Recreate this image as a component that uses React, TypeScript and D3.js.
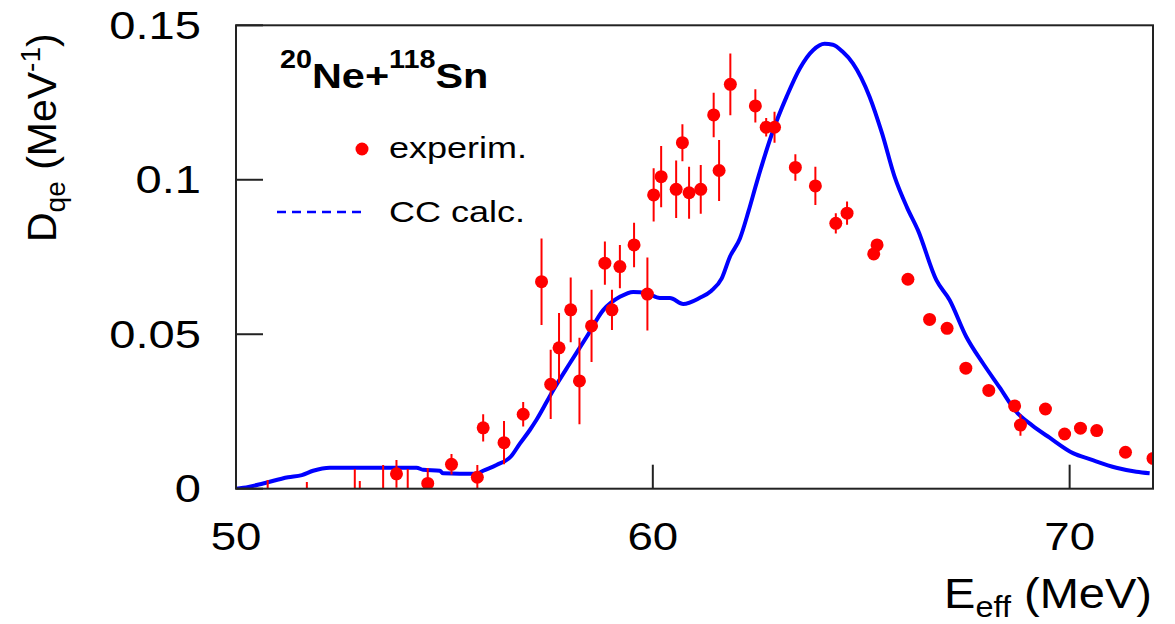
import React from 'react';
import * as d3 from 'd3';

// axis ticks
const xTicks = [50, 60, 70];
const yTicks = [0, 0.05, 0.1, 0.15];
const yTickLabels = ['0', '0.05', '0.1', '0.15'];

// experimental points (E_eff in MeV, D_qe, error half-width)
const expX = [50.76, 51.7, 52.85, 52.97, 53.53, 54.12,
  53.85, 54.6, 55.17, 55.79, 55.93, 56.43, 56.89, 57.33, 57.55, 57.75,
  58.03, 58.24, 58.53, 58.85, 59.02, 59.21, 59.55, 59.87, 60.02, 60.2,
  60.56, 60.71, 60.87, 61.15, 61.46, 61.59, 61.86, 62.46, 62.72, 62.92,
  63.42, 63.9, 64.39, 64.66, 65.3, 65.38, 66.12, 66.64, 67.06, 67.51,
  68.06, 68.68, 68.82, 69.42, 69.88, 70.26, 70.65, 71.34, 72.0];
const expY = [-0.005, -0.005, -0.005, -0.005, -0.005, -0.005,
  0.0048, 0.0017, 0.0079, 0.0037, 0.0197, 0.0149, 0.0241, 0.067, 0.0338, 0.0456,
  0.0579, 0.0349, 0.0527, 0.073, 0.0579, 0.0719, 0.0789, 0.063, 0.0951, 0.101,
  0.0969, 0.112, 0.0958, 0.0969, 0.121, 0.103, 0.1309, 0.1239, 0.117, 0.117,
  0.104, 0.098, 0.0859, 0.0892, 0.076, 0.0789, 0.0678, 0.0548, 0.0519, 0.039,
  0.0318, 0.0268, 0.0206, 0.0258, 0.0177, 0.0196, 0.0188, 0.0118, 0.0098];
const expErr = [0.0078, 0.0072, 0.0114, 0.0075, 0.0127, 0.0114,
  0.0045, 0.005, 0.0033, 0.004, 0.0044, 0.007, 0.004, 0.014, 0.0112, 0.0113,
  0.0105, 0.014, 0.0117, 0.007, 0.0065, 0.007, 0.0072, 0.0118, 0.0086, 0.0099,
  0.0093, 0.006, 0.0084, 0.0079, 0.0072, 0.0099, 0.01, 0.0054, 0.003, 0.005,
  0.0043, 0.0062, 0.0033, 0.0038, 0.002, 0.0015, 0.0012, 0.001, 0.001, 0.001,
  0.001, 0.001, 0.0035, 0.001, 0.0012, 0.0015, 0.001, 0.001, 0.001];

// coupled-channels calculation
const calcX = [50.0, 50.3, 50.65, 51.25, 51.58, 51.85, 52.25, 54.33, 54.49, 54.89,
  54.97, 55.77, 55.93, 56.25, 56.6, 56.81, 57.05, 57.21, 57.61, 58.01, 58.41,
  58.81, 59.21, 59.53, 59.85, 60.17, 60.41, 60.73, 61.13, 61.4, 61.65, 61.85,
  62.09, 62.3, 62.49, 62.89, 63.21, 63.53, 63.85, 64.12, 64.32, 64.55, 64.8,
  65.2, 65.5, 65.8, 66.1, 66.36, 66.8, 67.12, 67.52, 67.92, 68.32, 68.72,
  69.1, 69.52, 70.08, 70.5, 71.12, 71.6, 71.92];
const calcY = [0, 0.0006, 0.0017, 0.0037, 0.0044, 0.0058, 0.0068, 0.0068, 0.0061, 0.0058,
  0.005, 0.0048, 0.0058, 0.0077, 0.0105, 0.0146, 0.019, 0.0223, 0.0319, 0.0406, 0.0491,
  0.0578, 0.0621, 0.0637, 0.0633, 0.0617, 0.0617, 0.0598, 0.0618, 0.064, 0.068, 0.0751,
  0.081, 0.09, 0.099, 0.1161, 0.1269, 0.1361, 0.142, 0.144, 0.1437, 0.1415, 0.1377,
  0.1269, 0.115, 0.101, 0.091, 0.0837, 0.0676, 0.0611, 0.0492, 0.0406, 0.0328, 0.0249,
  0.0205, 0.0165, 0.0115, 0.0095, 0.0068, 0.0055, 0.005];

const W = 1175;
const H = 624;
const left = 236;
const right = 1153;
const top = 25.3;
const bottom = 488.7;

const FONT = '"Liberation Sans", Arial, Helvetica, sans-serif';
const SX = 1.2; // the original picture is stretched horizontally

export default function App() {
  const x = d3.scaleLinear().domain([50, 72]).range([left, right]);
  const y = d3.scaleLinear().domain([0, 0.15]).range([bottom, top]);

  const line = d3.line<number>()
    .x((_, i) => x(calcX[i]))
    .y((d) => y(d))
    .curve(d3.curveMonotoneX);

  const pts = expX.map((v, i) => ({ x: v, y: expY[i], e: expErr[i] }));

  return (
    <svg width={W} height={H} style={{ position: 'absolute', left: 0, top: 0, background: '#fff' }}
      fontFamily={FONT}>
      <defs>
        <clipPath id="plot">
          <rect x={left} y={top} width={right - left} height={bottom - top} />
        </clipPath>
      </defs>

      <g clipPath="url(#plot)">
        <path d={line(calcY) || ''} fill="none" stroke="#0000ff" strokeWidth={4} />
        {pts.map((p, i) => (
          <g key={i}>
            <line x1={x(p.x)} x2={x(p.x)} y1={y(p.y - p.e)} y2={y(p.y + p.e)}
              stroke="#ff0000" strokeWidth={2} />
            <circle cx={x(p.x)} cy={y(p.y)} r={6.5} fill="#ff0000" />
          </g>
        ))}
      </g>

      {/* frame */}
      <rect x={left} y={top} width={right - left} height={bottom - top}
        fill="none" stroke="#222" strokeWidth={2} />

      {/* ticks */}
      {xTicks.map((t) => (
        <line key={'xt' + t} x1={x(t)} x2={x(t)} y1={bottom} y2={bottom - 24}
          stroke="#222" strokeWidth={2} />
      ))}
      {yTicks.map((t) => (
        <line key={'yt' + t} x1={left} x2={left + 27} y1={y(t)} y2={y(t)}
          stroke="#222" strokeWidth={2} />
      ))}

      {/* tick labels */}
      {xTicks.map((t) => (
        <text key={'xl' + t} transform={`translate(${x(t)},550) scale(${SX},1)`}
          textAnchor="middle" fontSize={38}>{t}</text>
      ))}
      {yTicks.map((t, i) => (
        <text key={'yl' + t} transform={`translate(201,${y(t)}) scale(1.24,1)`}
          textAnchor="end" dy="0.36em" fontSize={38}>{yTickLabels[i]}</text>
      ))}

      {/* axis titles */}
      <text transform={`translate(1152,608) scale(1.12,1)`} textAnchor="end" fontSize={42}>
        <tspan>E</tspan>
        <tspan fontSize={29} dy={9}>eff</tspan>
        <tspan dy={-9}> (MeV)</tspan>
      </text>
      <text transform={`translate(56,242) rotate(-90)`} textAnchor="start" fontSize={41}>
        <tspan>D</tspan>
        <tspan fontSize={28} dy={9}>qe</tspan>
        <tspan dy={-9}> (MeV</tspan>
        <tspan fontSize={28} dy={-16}>-1</tspan>
        <tspan dy={16}>)</tspan>
      </text>

      {/* reaction label */}
      <text transform={`translate(280,88) scale(1.15,1)`} fontWeight="bold" fontSize={36}>
        <tspan fontSize={25} dy={-20}>20</tspan>
        <tspan dy={20}>Ne+</tspan>
        <tspan fontSize={25} dy={-20}>118</tspan>
        <tspan dy={20}>Sn</tspan>
      </text>

      {/* legend */}
      <circle cx={362} cy={149} r={6.5} fill="#ff0000" />
      <text transform={`translate(389,158) scale(${SX},1)`} fontSize={30}>experim.</text>
      <line x1={277} x2={363} y1={212} y2={212} stroke="#0000ff" strokeWidth={2.5}
        strokeDasharray="9,6" />
      <text transform={`translate(389,222) scale(${SX},1)`} fontSize={30}>CC calc.</text>
    </svg>
  );
}
